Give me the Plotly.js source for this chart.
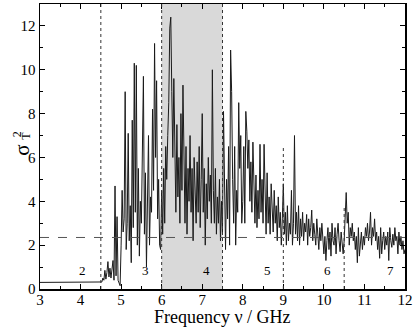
<!DOCTYPE html>
<html>
<head>
<meta charset="utf-8">
<script src="https://cdn.plot.ly/plotly-3.0.1.min.js"></script>
<style>
  body { margin: 0; background: #fff; }
  #plot { width: 415px; height: 327px; }
</style>
</head>
<body>
<div id="plot"></div>
<script>
// Transmission variance sigma_T^2 vs frequency
// flat part below threshold
var lowFreq = [3.0, 4.475];
var lowVar = [0.30, 0.30];

// sampled part, 4.5 .. 12.0 GHz in 0.025 GHz steps
var startFreq = 4.5;
var stepFreq = 0.025;
var sigmaT2 = [
  0.30, 0.32, 0.50, 0.40, 0.85, 0.45, 0.75, 1.25, 0.55, 0.95,
  0.50, 0.80, 1.30, 0.40, 4.70, 0.60, 3.30, 0.40, 0.25, 0.15,
  2.00, 4.50, 2.60, 3.20, 9.00, 1.80, 3.00, 7.10, 2.20, 3.80,
  1.20, 7.70, 2.80, 10.30, 3.50, 10.20, 2.00, 5.50, 1.50, 4.00,
  3.00, 6.50, 9.70, 2.50, 5.30, 1.00, 4.80, 7.00, 2.00, 4.20,
  3.50, 8.20, 4.50, 11.20, 6.00, 9.50, 3.20, 5.00, 2.00, 1.80,
  4.50, 2.50, 5.50, 3.00, 6.50, 5.00, 7.00, 8.50, 11.90, 12.40,
  9.00, 6.00, 9.60, 5.00, 3.50, 7.50, 4.20, 6.00, 3.00, 8.00,
  4.50, 9.30, 5.00, 3.00, 6.50, 2.50, 5.50, 4.00, 7.00, 3.50,
  5.50, 2.20, 6.00, 4.50, 3.00, 5.80, 3.50, 6.50, 2.80, 5.00,
  8.00, 3.50, 5.50, 2.00, 4.80, 3.20, 6.00, 4.00, 5.20, 3.00,
  10.00, 4.50, 3.00, 5.50, 2.50, 4.20, 3.00, 5.00, 2.20, 4.00,
  2.50, 8.10, 3.50, 1.80, 5.00, 3.20, 6.50, 2.00, 10.90, 9.00,
  5.00, 3.00, 6.50, 2.00, 4.50, 3.50, 8.50, 5.50, 7.00, 3.00,
  4.00, 6.50, 3.00, 8.10, 7.20, 5.50, 6.80, 4.00, 5.80, 3.50,
  6.70, 4.50, 3.00, 5.20, 2.80, 4.50, 3.20, 6.60, 3.50, 5.00,
  3.00, 6.60, 4.00, 2.50, 5.30, 3.00, 4.20, 2.50, 4.80, 3.20,
  2.60, 4.50, 3.00, 3.80, 2.20, 4.20, 2.80, 3.50, 2.00, 3.20,
  4.80, 2.50, 3.50, 2.00, 3.80, 2.20, 3.00, 2.50, 4.50, 2.00,
  3.00, 7.00, 2.50, 3.50, 2.20, 3.80, 2.00, 3.20, 2.40, 3.50,
  2.20, 3.00, 2.60, 3.40, 2.00, 3.20, 2.40, 2.80, 3.60, 2.20,
  3.00, 2.50, 2.00, 3.20, 2.60, 1.80, 2.80, 2.20, 3.00, 2.40,
  1.60, 2.40, 1.30, 2.20, 2.80, 1.80, 2.60, 1.50, 3.00, 2.20,
  2.00, 2.80, 1.60, 2.50, 3.00, 2.20, 1.70, 2.60, 2.00, 1.60,
  2.20, 3.80, 4.40, 3.00, 3.50, 2.00, 2.80, 2.40, 3.00, 2.20,
  2.60, 1.80, 2.40, 1.20, 2.80, 1.50, 2.20, 2.60, 1.80, 2.40,
  2.00, 2.80, 2.40, 3.00, 2.20, 2.60, 3.50, 2.00, 2.80, 2.40,
  3.20, 2.20, 2.60, 1.80, 2.40, 1.40, 2.80, 1.60, 2.20, 2.60,
  1.80, 2.40, 2.00, 2.60, 1.30, 2.80, 2.20, 1.90, 2.50, 2.00,
  2.80, 2.20, 2.40, 1.60, 2.60, 2.00, 2.40, 1.80, 2.20, 1.60,
  1.80
];

// region boundaries and labels
var regionLines = [4.5, 6.0, 7.5, 9.0, 10.5];
var regionLineTop = [13, 13, 13, 6.45, 3.8];
var regionLabels = ['2', '3', '4', '5', '6', '7'];
var regionLabelX = [4.06, 5.6, 7.1, 8.6, 10.1, 11.65];
var meanLevel = 2.35;

var freq = lowFreq.slice();
var vals = lowVar.slice();
for (var i = 0; i < sigmaT2.length; i++) {
  freq.push(startFreq + i * stepFreq);
  vals.push(sigmaT2[i]);
}

var trace = {
  x: freq,
  y: vals,
  mode: 'lines',
  type: 'scatter',
  line: { color: '#1a1a1a', width: 1 },
  hoverinfo: 'skip'
};

var shapes = [{
  type: 'rect', xref: 'x', yref: 'y', x0: 6, x1: 7.5, y0: 0, y1: 13,
  fillcolor: '#d9d9d9', line: { width: 0 }, layer: 'below'
}, {
  type: 'line', xref: 'x', yref: 'y', x0: 3, x1: 12, y0: meanLevel, y1: meanLevel,
  line: { color: '#555', width: 1, dash: 'dash' }
}];
regionLines.forEach(function (x, k) {
  shapes.push({
    type: 'line', xref: 'x', yref: 'y', x0: x, x1: x, y0: 0, y1: regionLineTop[k],
    line: { color: '#333', width: 1, dash: 'dot' }
  });
});

var annotations = regionLabels.map(function (t, k) {
  return {
    x: regionLabelX[k], y: 0.85, xref: 'x', yref: 'y', text: t,
    showarrow: false, font: { size: 13, color: '#000' }
  };
});
// y axis label: sigma with stacked sub/superscript
annotations.push({ x: 0, y: 0.485, xref: 'paper', yref: 'paper', xshift: -18,
  xanchor: 'center', yanchor: 'middle',
  text: 'σ', textangle: -90, showarrow: false, font: { size: 21, color: '#000' } });
annotations.push({ x: 0, y: 0.538, xref: 'paper', yref: 'paper', xshift: -14,
  xanchor: 'center', yanchor: 'middle',
  text: 'T', textangle: -90, showarrow: false, font: { size: 12, color: '#000' } });
annotations.push({ x: 0, y: 0.543, xref: 'paper', yref: 'paper', xshift: -23,
  xanchor: 'center', yanchor: 'middle',
  text: '2', textangle: -90, showarrow: false, font: { size: 12, color: '#000' } });
// x axis label
annotations.push({ x: 0.5, y: 0, xref: 'paper', yref: 'paper', yshift: -28,
  xanchor: 'center', yanchor: 'middle',
  text: 'Frequency ν / GHz', showarrow: false, font: { size: 18, color: '#000' } });

var layout = {
  width: 415,
  height: 327,
  margin: { l: 40, r: 10, t: 4, b: 38 },
  paper_bgcolor: '#fff',
  plot_bgcolor: '#fff',
  showlegend: false,
  font: { family: 'Liberation Serif, Times New Roman, serif', color: '#000', size: 15 },
  xaxis: {
    range: [3, 12], dtick: 1, tick0: 3,
    ticks: 'inside', ticklen: 5, tickwidth: 1, tickcolor: '#000',
    minor: { dtick: 0.5, ticks: 'inside', ticklen: 3, tickcolor: '#000' },
    showline: true, linewidth: 1.5, linecolor: '#000', mirror: 'ticks',
    showgrid: false, zeroline: false, ticklabelstandoff: -4
  },
  yaxis: {
    range: [0, 13], dtick: 2, tick0: 0,
    ticks: 'inside', ticklen: 5, tickwidth: 1, tickcolor: '#000',
    minor: { dtick: 1, ticks: 'inside', ticklen: 3, tickcolor: '#000' },
    showline: true, linewidth: 1.5, linecolor: '#000', mirror: 'ticks',
    showgrid: false, zeroline: false
  },
  shapes: shapes,
  annotations: annotations
};

Plotly.newPlot('plot', [trace], layout, { displayModeBar: false, staticPlot: true });
</script>
</body>
</html>
